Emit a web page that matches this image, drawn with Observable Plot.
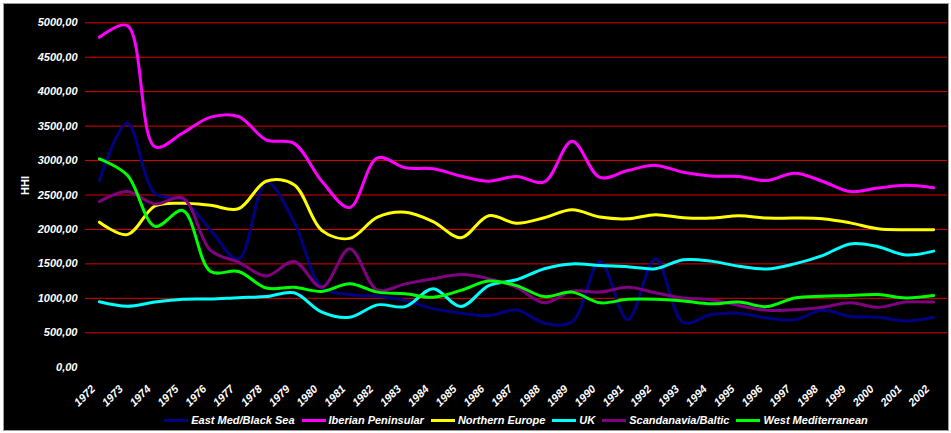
<!DOCTYPE html>
<html>
<head>
<meta charset="utf-8">
<script src="https://cdn.jsdelivr.net/npm/d3@7"></script>
<script src="https://cdn.jsdelivr.net/npm/@observablehq/plot@0.6"></script>
<style>
html, body { margin: 0; padding: 0; background: #ffffff; }
#frame { position: absolute; left: 3px; top: 3px; width: 944px; height: 426px; background: #000; border: 1px solid #9a9a9a; }
#chart { position: absolute; left: 0; top: 0; }
#legend { position: absolute; left: 85px; width: 862px; top: 413px; height: 14px; display: flex; justify-content: center; align-items: center;
  font-family: "Liberation Sans", Arial, sans-serif; font-size: 11px; font-weight: bold; font-style: italic; color: #fff; }
#legend .item { display: flex; align-items: center; margin: 0 3.5px; }
#legend .sw { width: 24px; height: 3px; margin-right: 3px; }
</style>
</head>
<body>
<div id="frame"></div>
<div id="chart"></div>
<div id="legend"></div>
<script>
const years = [1972,1973,1974,1975,1976,1977,1978,1979,1980,1981,1982,1983,1984,1985,1986,1987,1988,1989,1990,1991,1992,1993,1994,1995,1996,1997,1998,1999,2000,2001,2002];

const seriesNames = ["East Med/Black Sea", "Iberian Peninsular", "Northern Europe", "UK", "Scandanavia/Baltic", "West Mediterranean"];
const seriesColors = ["#000080", "#ff00ff", "#ffff00", "#00ffff", "#800080", "#00ff00"];

const eastMed = [2710,3540,2520,2430,1990,1570,2690,2110,1160,1055,1030,970,850,785,750,830,640,660,1535,690,1575,650,765,785,715,690,825,735,725,670,725];
const iberian = [4790,4960,3200,3400,3630,3640,3300,3250,2700,2320,3040,2895,2880,2775,2700,2770,2690,3280,2755,2855,2930,2830,2775,2770,2710,2815,2700,2550,2600,2640,2605];
const northern = [2105,1925,2340,2380,2350,2300,2700,2650,1985,1870,2180,2250,2115,1880,2200,2090,2170,2285,2180,2155,2215,2170,2165,2200,2165,2165,2155,2095,2010,1995,1995];
const uk = [950,885,945,985,990,1010,1025,1080,800,725,905,880,1140,880,1185,1270,1430,1500,1475,1460,1430,1560,1540,1465,1425,1500,1620,1790,1750,1630,1685];
const scand = [2405,2550,2370,2455,1695,1525,1325,1535,1160,1720,1120,1210,1285,1345,1285,1160,935,1105,1090,1160,1080,1005,980,895,825,835,870,935,870,945,945];
const westMed = [3025,2790,2045,2275,1390,1390,1150,1160,1100,1210,1090,1065,1015,1115,1250,1185,1025,1090,935,985,985,960,920,945,880,1005,1030,1040,1055,1005,1040];

const yTicks = [0,500,1000,1500,2000,2500,3000,3500,4000,4500,5000];
const gridValues = [500,1000,1500,2000,2500,3000,3500,4000,4500,5000];

const seriesValues = [eastMed, iberian, northern, uk, scand, westMed];
const rows = seriesNames.flatMap((name, k) => seriesValues[k].map((v, i) => ({year: years[i], value: v, series: name})));

const font = "'Liberation Sans', Arial, sans-serif";

const chart = Plot.plot({
  width: 951,
  height: 405,
  marginLeft: 85,
  marginRight: 4,
  marginTop: 22.3,
  marginBottom: 38.3,
  x: {domain: [1971.5, 2002.5]},
  y: {domain: [0, 5000]},
  color: {domain: seriesNames, range: seriesColors},
  style: {background: "transparent", color: "#ffffff", fontFamily: font, fontSize: "11px", fontWeight: "bold", fontStyle: "italic", overflow: "visible"},
  marks: [
    Plot.ruleY(gridValues, {stroke: "#e00000", strokeWidth: 1}),
    Plot.lineY(rows, {x: "year", y: "value", stroke: "series", strokeWidth: 3, curve: "catmull-rom"}),
    Plot.axisY({ticks: yTicks, tickFormat: d => d.toFixed(2).replace(".", ","), tickSize: 0, tickPadding: 8, label: null, fontSize: 11}),
    Plot.text(["HHI"], {frameAnchor: "left", dx: -60, rotate: -90, fill: "#ffffff", fontSize: 11, fontWeight: "bold", fontStyle: "normal"}),
    Plot.axisX({ticks: years, tickFormat: d => String(d), tickSize: 0, tickPadding: 0, tickRotate: -45, textAnchor: "end", lineAnchor: "middle", dx: -6, dy: 20, label: null, fontSize: 11})
  ]
});
document.getElementById("chart").appendChild(chart);

const legend = document.getElementById("legend");
seriesNames.forEach((name, k) => {
  const item = document.createElement("div");
  item.className = "item";
  const sw = document.createElement("div");
  sw.className = "sw";
  sw.style.background = seriesColors[k];
  const label = document.createElement("span");
  label.textContent = name;
  item.appendChild(sw);
  item.appendChild(label);
  legend.appendChild(item);
});
</script>
</body>
</html>
